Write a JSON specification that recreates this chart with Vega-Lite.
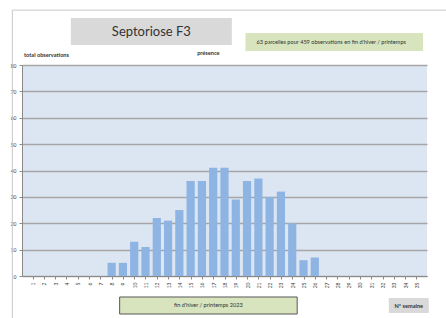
{
  "$schema": "https://vega.github.io/schema/vega-lite/v6.json",
  "width": 405,
  "height": 211,
  "autosize": "none",
  "padding": {"left": 22, "top": 65, "right": 19, "bottom": 42},
  "background": "white",
  "config": {
    "view": {"fill": "#dce6f2", "stroke": null},
    "font": "Lato",
    "text": {"font": "Lato"}
  },
  "resolve": {"axis": {"x": "independent", "y": "independent"}},
  "layer": [
    {
      "data": {"values": [{}]},
      "mark": {"type": "rect", "fill": null, "stroke": "#c8c8c8", "strokeWidth": 1},
      "encoding": {
        "x": {"datum": -0.8, "type": "quantitative", "axis": null},
        "x2": {"datum": 40},
        "y": {"datum": 100.8, "type": "quantitative", "axis": null},
        "y2": {"datum": -30}
      }
    },
    {
      "data": {
        "values": [
          {"week": 8, "count": 5},
          {"week": 9, "count": 5},
          {"week": 10, "count": 13},
          {"week": 11, "count": 11},
          {"week": 12, "count": 22},
          {"week": 13, "count": 21},
          {"week": 14, "count": 25},
          {"week": 15, "count": 36},
          {"week": 16, "count": 36},
          {"week": 17, "count": 41},
          {"week": 18, "count": 41},
          {"week": 19, "count": 29},
          {"week": 20, "count": 36},
          {"week": 21, "count": 37},
          {"week": 22, "count": 30},
          {"week": 23, "count": 32},
          {"week": 24, "count": 20},
          {"week": 25, "count": 6},
          {"week": 26, "count": 7}
        ]
      },
      "mark": {"type": "bar", "width": 8.2, "color": "#8db4e3"},
      "encoding": {
        "x": {
          "field": "week",
          "type": "quantitative",
          "scale": {"domain": [0.5, 35.5], "nice": false, "zero": false},
          "axis": {
            "orient": "bottom",
            "title": null,
            "values": [1,2,3,4,5,6,7,8,9,10,11,12,13,14,15,16,17,18,19,20,21,22,23,24,25,26,27,28,29,30,31,32,33,34,35],
            "format": "d",
            "labelAngle": 270,
            "labelFontSize": 5,
            "labelColor": "#404040",
            "labelPadding": 3,
            "grid": false,
            "domainColor": "#8a8a8a",
            "tickColor": "#8a8a8a",
            "tickSize": 3,
            "labelFlush": false,
            "labelOverlap": false
          }
        },
        "y": {
          "field": "count",
          "type": "quantitative",
          "scale": {"domain": [0, 80], "nice": false},
          "axis": {
            "orient": "left",
            "title": null,
            "values": [0,10,20,30,40,50,60,70,80],
            "labelOverlap": false,
            "labelFontSize": 5,
            "labelColor": "#404040",
            "labelPadding": 3,
            "grid": true,
            "gridColor": "#a6a6a6",
            "gridWidth": 1.5,
            "domainColor": "#8a8a8a",
            "tickColor": "#8a8a8a",
            "tickSize": 3
          }
        }
      }
    },
    {
      "data": {"values": [{}]},
      "mark": {"type": "rect", "fill": "#d9d9d9"},
      "encoding": {
        "x": {"datum": 4.39, "type": "quantitative", "axis": null},
        "x2": {"datum": 18.65},
        "y": {"datum": 97.8, "type": "quantitative", "axis": null},
        "y2": {"datum": 87.6}
      }
    },
    {
      "data": {"values": [{}]},
      "mark": {"type": "text", "text": "Septoriose F3", "fontSize": 13, "color": "#333333", "align": "center", "baseline": "middle"},
      "encoding": {
        "x": {"datum": 11.52, "type": "quantitative", "axis": null},
        "y": {"datum": 92.7, "type": "quantitative", "axis": null}
      }
    },
    {
      "data": {"values": [{}]},
      "mark": {"type": "rect", "fill": "#d7e4bd"},
      "encoding": {
        "x": {"datum": 19.86, "type": "quantitative", "axis": null},
        "x2": {"datum": 35.59},
        "y": {"datum": 92.1, "type": "quantitative", "axis": null},
        "y2": {"datum": 85.3}
      }
    },
    {
      "data": {"values": [{}]},
      "mark": {"type": "text", "text": "63 parcelles pour 459 observations en fin d'hiver / printemps", "fontSize": 5.6, "color": "#333333", "align": "center", "baseline": "middle"},
      "encoding": {
        "x": {"datum": 27.46, "type": "quantitative", "axis": null},
        "y": {"datum": 88.7, "type": "quantitative", "axis": null}
      }
    },
    {
      "data": {"values": [{}]},
      "mark": {"type": "text", "text": "total observations", "fontSize": 5.6, "fontWeight": "bold", "color": "#333333", "align": "left", "baseline": "middle"},
      "encoding": {
        "x": {"datum": 0.24, "type": "quantitative", "axis": null},
        "y": {"datum": 83.8, "type": "quantitative", "axis": null}
      }
    },
    {
      "data": {"values": [{}]},
      "mark": {"type": "text", "text": "présence", "fontSize": 5.6, "fontWeight": "bold", "color": "#333333", "align": "center", "baseline": "middle"},
      "encoding": {
        "x": {"datum": 16.57, "type": "quantitative", "axis": null},
        "y": {"datum": 84.6, "type": "quantitative", "axis": null}
      }
    },
    {
      "data": {"values": [{}]},
      "mark": {"type": "rect", "fill": "#d7e4bd", "stroke": "#595959", "strokeWidth": 1},
      "encoding": {
        "x": {"datum": 8.71, "type": "quantitative", "axis": null},
        "x2": {"datum": 24.44},
        "y": {"datum": -7.96, "type": "quantitative", "axis": null},
        "y2": {"datum": -14.41}
      }
    },
    {
      "data": {"values": [{}]},
      "mark": {"type": "text", "text": "fin d'hiver / printemps 2023", "fontSize": 5.6, "color": "#333333", "align": "center", "baseline": "middle"},
      "encoding": {
        "x": {"datum": 16.57, "type": "quantitative", "axis": null},
        "y": {"datum": -11.18, "type": "quantitative", "axis": null}
      }
    },
    {
      "data": {"values": [{}]},
      "mark": {"type": "rect", "fill": "#d9d9d9"},
      "encoding": {
        "x": {"datum": 32.56, "type": "quantitative", "axis": null},
        "x2": {"datum": 36.1},
        "y": {"datum": -8.34, "type": "quantitative", "axis": null},
        "y2": {"datum": -14.03}
      }
    },
    {
      "data": {"values": [{}]},
      "mark": {"type": "text", "text": "N° semaine", "fontSize": 5.6, "fontWeight": "bold", "color": "#333333", "align": "center", "baseline": "middle"},
      "encoding": {
        "x": {"datum": 34.33, "type": "quantitative", "axis": null},
        "y": {"datum": -11.2, "type": "quantitative", "axis": null}
      }
    }
  ]
}
